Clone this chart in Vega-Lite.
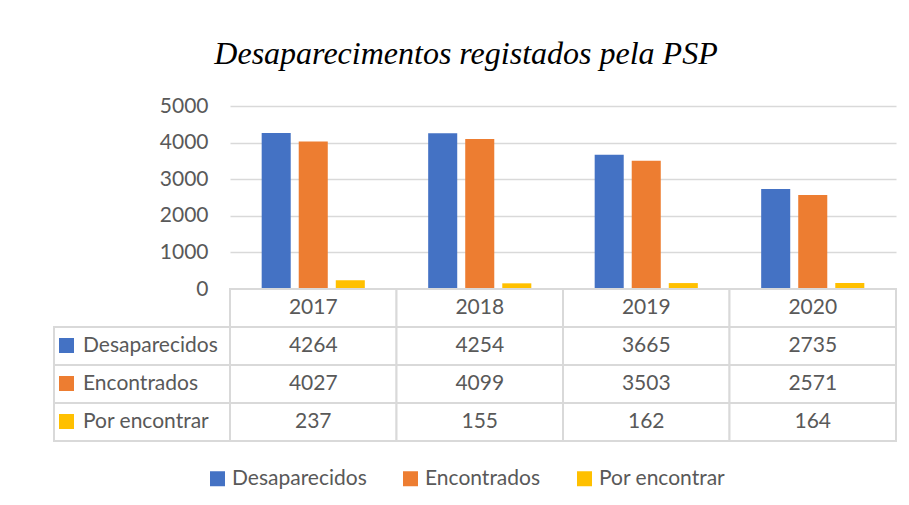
{
  "$schema": "https://vega.github.io/schema/vega-lite/v6.json",
  "background": "white",
  "padding": {"left": 53, "top": 38, "right": 10, "bottom": 10},
  "title": {
    "text": "Desaparecimentos registados pela PSP",
    "font": "Liberation Serif",
    "fontStyle": "italic",
    "fontWeight": "normal",
    "fontSize": 32,
    "color": "#000000",
    "anchor": "middle",
    "dx": -9,
    "offset": 24
  },
  "datasets": {
    "vals": [
      {"year": "2017", "series": "Desaparecidos", "value": 4264},
      {"year": "2017", "series": "Encontrados", "value": 4027},
      {"year": "2017", "series": "Por encontrar", "value": 237},
      {"year": "2018", "series": "Desaparecidos", "value": 4254},
      {"year": "2018", "series": "Encontrados", "value": 4099},
      {"year": "2018", "series": "Por encontrar", "value": 155},
      {"year": "2019", "series": "Desaparecidos", "value": 3665},
      {"year": "2019", "series": "Encontrados", "value": 3503},
      {"year": "2019", "series": "Por encontrar", "value": 162},
      {"year": "2020", "series": "Desaparecidos", "value": 2735},
      {"year": "2020", "series": "Encontrados", "value": 2571},
      {"year": "2020", "series": "Por encontrar", "value": 164}
    ]
  },
  "columns": 2,
  "spacing": 0,
  "bounds": "flush",
  "resolve": {"scale": {"color": "independent"}, "legend": {"color": "independent"}},
  "concat": [
    {
      "width": 176,
      "height": 183,
      "data": {"values": [{}]},
      "mark": {"type": "point", "opacity": 0},
      "encoding": {}
    },
    {
      "width": 666,
      "height": 183,
      "data": {"name": "vals"},
      "mark": {"type": "bar"},
      "encoding": {
        "x": {"field": "year", "type": "nominal", "axis": null, "scale": {"paddingInner": 0, "paddingOuter": 0}},
        "xOffset": {"field": "series", "type": "nominal", "sort": ["Desaparecidos", "Encontrados", "Por encontrar"], "scale": {"paddingInner": 0.216, "paddingOuter": 0.855}},
        "y": {
          "field": "value", "type": "quantitative",
          "scale": {"domain": [0, 5000], "nice": false},
          "axis": {
            "title": null, "values": [0, 1000, 2000, 3000, 4000, 5000], "format": "d",
            "grid": true, "gridColor": "#d9d9d9", "gridWidth": 1.5,
            "ticks": false, "domain": false, "labelPadding": 22,
            "labelFont": "Lato", "labelFontSize": 21, "labelColor": "#595959"
          }
        },
        "color": {
          "field": "series", "type": "nominal",
          "scale": {"domain": ["Desaparecidos", "Encontrados", "Por encontrar"], "range": ["#4472c4", "#ed7d31", "#ffc000"]},
          "legend": {
            "title": null, "orient": "none", "direction": "horizontal",
            "legendX": -23, "legendY": 362,
            "symbolType": "square", "symbolSize": 225, "symbolStrokeWidth": 0,
            "labelFont": "Lato", "labelFontSize": 21, "labelColor": "#595959",
            "labelOffset": 4, "columnPadding": 33
          }
        }
      }
    },
    {
      "width": 176,
      "height": 152,
      "data": {"name": "vals"},
      "transform": [{"filter": "datum.year == '2017'"}],
      "layer": [
        {
          "mark": {"type": "rect", "fill": "white", "stroke": "#d9d9d9", "strokeWidth": 2},
          "encoding": {
            "y": {"field": "series", "type": "nominal", "axis": null,
                  "scale": {"domain": ["Ano", "Desaparecidos", "Encontrados", "Por encontrar"], "paddingInner": 0, "paddingOuter": 0}}
          }
        },
        {
          "mark": {"type": "point", "opacity": 0, "filled": true, "shape": "square"},
          "encoding": {
            "y": {"field": "series", "type": "nominal", "axis": null},
            "color": {
              "field": "series", "type": "nominal",
              "scale": {"domain": ["Desaparecidos", "Encontrados", "Por encontrar"], "range": ["#4472c4", "#ed7d31", "#ffc000"]},
              "legend": {
                "title": null, "orient": "none", "direction": "vertical",
                "legendX": 2, "legendY": 46,
                "symbolType": "square", "symbolSize": 225, "symbolOpacity": 1, "symbolStrokeWidth": 0,
                "labelFont": "Lato", "labelFontSize": 21, "labelColor": "#595959",
                "labelOffset": 6, "rowPadding": 16
              }
            }
          }
        }
      ]
    },
    {
      "width": 666,
      "height": 152,
      "layer": [
        {
          "data": {"name": "vals"},
          "mark": {"type": "rect", "fill": "white", "stroke": "#d9d9d9", "strokeWidth": 2},
          "encoding": {
            "x": {"field": "year", "type": "nominal", "axis": null, "scale": {"paddingInner": 0, "paddingOuter": 0}},
            "y": {"field": "series", "type": "nominal", "axis": null,
                  "scale": {"domain": ["Ano", "Desaparecidos", "Encontrados", "Por encontrar"], "paddingInner": 0, "paddingOuter": 0}}
          }
        },
        {
          "data": {"name": "vals"},
          "transform": [{"aggregate": [{"op": "count", "as": "n"}], "groupby": ["year"]}],
          "mark": {"type": "rect", "fill": "white", "stroke": "#d9d9d9", "strokeWidth": 2},
          "encoding": {
            "x": {"field": "year", "type": "nominal", "axis": null},
            "y": {"datum": "Ano", "type": "nominal", "axis": null}
          }
        },
        {
          "data": {"name": "vals"},
          "transform": [{"aggregate": [{"op": "count", "as": "n"}], "groupby": ["year"]}],
          "mark": {"type": "text", "font": "Lato", "fontSize": 21, "color": "#595959", "align": "center", "baseline": "middle"},
          "encoding": {
            "x": {"field": "year", "type": "nominal", "axis": null},
            "y": {"datum": "Ano", "type": "nominal", "axis": null},
            "text": {"field": "year", "type": "nominal"}
          }
        },
        {
          "data": {"name": "vals"},
          "mark": {"type": "text", "font": "Lato", "fontSize": 21, "color": "#595959", "align": "center", "baseline": "middle"},
          "encoding": {
            "x": {"field": "year", "type": "nominal", "axis": null},
            "y": {"field": "series", "type": "nominal", "axis": null},
            "text": {"field": "value", "type": "quantitative", "format": "d"}
          }
        }
      ]
    }
  ],
  "config": {
    "view": {"stroke": null},
    "font": "Lato"
  }
}
